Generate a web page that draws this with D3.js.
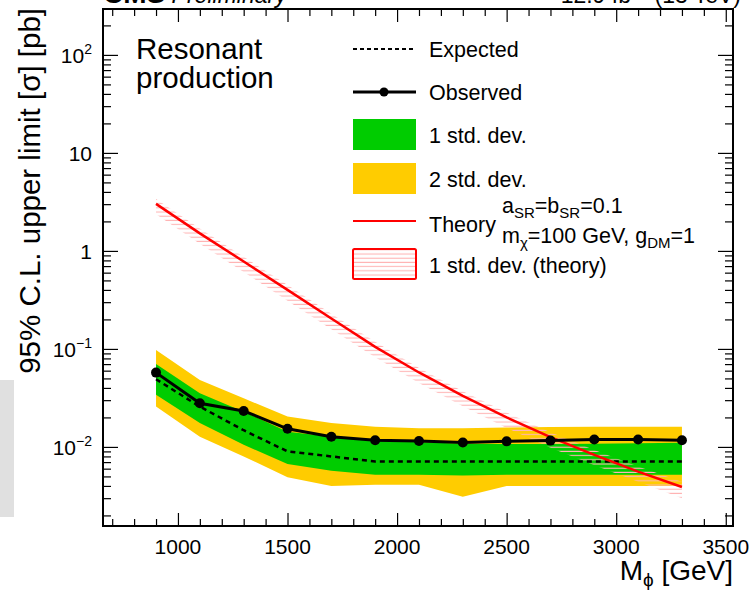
<!DOCTYPE html>
<html>
<head>
<meta charset="utf-8">
<script src="https://cdn.jsdelivr.net/npm/d3@7"></script>
<style>
  body { margin: 0; background: #fff; }
  svg text { font-family: "Liberation Sans", Arial, Helvetica, sans-serif; fill: #000; }
</style>
</head>
<body>
<svg id="chart" width="749" height="591"></svg>
<script>
// limit points, mass in GeV, cross sections in pb
var mass      = [900, 1100, 1300, 1500, 1700, 1900, 2100, 2300, 2500, 2700, 2900, 3100, 3300];
var observed  = [0.0573, 0.0279, 0.0233, 0.0153, 0.0127, 0.0117, 0.0115, 0.0111, 0.0114, 0.0116, 0.0119, 0.0119, 0.0117];
var expected  = [0.049, 0.0258, 0.0148, 0.0090, 0.0080, 0.0071, 0.0071, 0.0071, 0.0071, 0.0071, 0.0071, 0.0071, 0.0071];
var sigma1Lo  = [0.034, 0.0175, 0.0105, 0.0067, 0.0057, 0.0052, 0.0052, 0.0051, 0.0052, 0.0052, 0.0052, 0.0052, 0.0052];
var sigma1Hi  = [0.0703, 0.0353, 0.0229, 0.0143, 0.0127, 0.0118, 0.0112, 0.0108, 0.0107, 0.0107, 0.0108, 0.0109, 0.0110];
var sigma2Lo  = [0.0258, 0.0127, 0.0080, 0.0049, 0.0040, 0.0041, 0.0041, 0.0031, 0.0040, 0.0040, 0.0040, 0.0040, 0.0040];
var sigma2Hi  = [0.0977, 0.0483, 0.0314, 0.0204, 0.0175, 0.0161, 0.0155, 0.0155, 0.0158, 0.0160, 0.0161, 0.0161, 0.0161];
var theory    = [3.02, 1.51, 0.78, 0.40, 0.204, 0.105, 0.0575, 0.0331, 0.020, 0.0126, 0.0083, 0.0056, 0.0039];
var theoryHi  = [3.38, 1.69, 0.87, 0.45, 0.228, 0.118, 0.064, 0.037, 0.0224, 0.0141, 0.0093, 0.0063, 0.0044];
var theoryLo  = [2.36, 1.18, 0.61, 0.31, 0.159, 0.082, 0.045, 0.026, 0.0156, 0.0098, 0.0065, 0.0044, 0.0030];

var xMajor = [1000, 1500, 2000, 2500, 3000, 3500];
var yMajor = [0.01, 0.1, 1, 10, 100];
var yLabels = [["10", "\u22122"], ["10", "\u22121"], ["1", ""], ["10", ""], ["10", "2"]];

var rows = mass.map(function(m, i) {
  return { m: m, obs: observed[i], exp: expected[i],
           lo1: sigma1Lo[i], hi1: sigma1Hi[i], lo2: sigma2Lo[i], hi2: sigma2Hi[i],
           th: theory[i], thLo: theoryLo[i], thHi: theoryHi[i] };
});

var L = 103, R = 733, T = 9, B = 526;
var x = d3.scaleLinear().domain([658, 3533]).range([L, R]);
var y = d3.scaleLog().domain([0.00156, 294]).range([B, T]);

var svg = d3.select("#chart");
var defs = svg.append("defs");

defs.append("clipPath").attr("id", "plotClip")
  .append("rect").attr("x", L).attr("y", T).attr("width", R - L).attr("height", B - T);

// horizontal hatch for the theory band
var hatch = defs.append("pattern").attr("id", "hatch")
  .attr("patternUnits", "userSpaceOnUse").attr("width", 8).attr("height", 4.2);
hatch.append("line").attr("x1", 0).attr("x2", 8).attr("y1", 2).attr("y2", 2)
  .attr("stroke", "#ffb4b4").attr("stroke-width", 1.1);

// header, mostly outside the canvas
svg.append("text").attr("x", 103).attr("y", 3).attr("font-size", 28)
  .html('<tspan font-weight="bold">CMS</tspan><tspan font-style="italic" font-size="23"> Preliminary</tspan>');
svg.append("text").attr("x", 741).attr("y", 3).attr("font-size", 23).attr("text-anchor", "end")
  .html('12.9 fb<tspan baseline-shift="super" font-size="15">\u22121</tspan> (13 TeV)');

// grey strip at the left edge
svg.append("rect").attr("x", 0).attr("y", 380).attr("width", 14).attr("height", 137).attr("fill", "#e0e0e0");

var plot = svg.append("g").attr("clip-path", "url(#plotClip)");

var band = function(lo, hi) {
  return d3.area().x(function(d) { return x(d.m); })
    .y0(function(d) { return y(d[lo]); }).y1(function(d) { return y(d[hi]); });
};

plot.append("path").datum(rows).attr("d", band("lo2", "hi2")).attr("fill", "#ffcc00");
plot.append("path").datum(rows).attr("d", band("lo1", "hi1")).attr("fill", "#00cc00");

plot.append("path").datum(rows).attr("d", band("thLo", "thHi")).attr("fill", "url(#hatch)");

var line = function(key) {
  return d3.line().x(function(d) { return x(d.m); }).y(function(d) { return y(d[key]); });
};

plot.append("path").datum(rows).attr("d", line("exp"))
  .attr("fill", "none").attr("stroke", "#000").attr("stroke-width", 2.5).attr("stroke-dasharray", "5,4");

plot.append("path").datum(rows).attr("d", line("th"))
  .attr("fill", "none").attr("stroke", "#ff0000").attr("stroke-width", 2.5);

plot.append("path").datum(rows).attr("d", line("obs"))
  .attr("fill", "none").attr("stroke", "#000").attr("stroke-width", 3);
plot.selectAll("circle.obs").data(rows).enter().append("circle")
  .attr("class", "obs")
  .attr("cx", function(d) { return x(d.m); })
  .attr("cy", function(d) { return y(d.obs); })
  .attr("r", 5).attr("fill", "#000");

// axes: ROOT style, ticks pointing inside on all four sides
var xMinor = d3.range(700, 3501, 100).filter(function(v) { return v % 500 !== 0; });
var yMinor = [];
[0.001, 0.01, 0.1, 1, 10, 100].forEach(function(dec) {
  d3.range(2, 10).forEach(function(k) {
    var v = dec * k;
    if (v > y.domain()[0] && v < y.domain()[1]) yMinor.push(v);
  });
});

function tickAxis(axisFn, scale, vals, size, pos) {
  var g = svg.append("g").attr("transform", pos)
    .call(axisFn(scale).tickValues(vals).tickSize(size).tickFormat(""));
  g.select(".domain").remove();
  g.selectAll(".tick line").attr("stroke", "#000").attr("stroke-width", 1.2);
  return g;
}

tickAxis(d3.axisBottom, x, xMajor, -13, "translate(0," + B + ")");
tickAxis(d3.axisBottom, x, xMinor, -7, "translate(0," + B + ")");
tickAxis(d3.axisTop, x, xMajor, -13, "translate(0," + T + ")");
tickAxis(d3.axisTop, x, xMinor, -7, "translate(0," + T + ")");
tickAxis(d3.axisLeft, y, yMajor, -15, "translate(" + L + ",0)");
tickAxis(d3.axisLeft, y, yMinor, -8, "translate(" + L + ",0)");
tickAxis(d3.axisRight, y, yMajor, -15, "translate(" + R + ",0)");
tickAxis(d3.axisRight, y, yMinor, -8, "translate(" + R + ",0)");

svg.append("rect").attr("x", L).attr("y", T).attr("width", R - L).attr("height", B - T)
  .attr("fill", "none").attr("stroke", "#000").attr("stroke-width", 2);

// tick labels
svg.append("g").selectAll("text").data(xMajor).enter().append("text")
  .attr("x", function(d) { return x(d); }).attr("y", 554)
  .attr("text-anchor", "middle").attr("font-size", 21)
  .text(function(d) { return d; });

svg.append("g").selectAll("text").data(yMajor).enter().append("text")
  .attr("x", 92).attr("y", function(d) { return y(d) + 8; })
  .attr("text-anchor", "end").attr("font-size", 21)
  .each(function(d, i) {
    var t = d3.select(this);
    t.append("tspan").text(yLabels[i][0]);
    if (yLabels[i][1]) t.append("tspan").attr("font-size", 14).attr("dy", -9).text(yLabels[i][1]);
  });

// axis titles
svg.append("text").attr("x", 733).attr("y", 580).attr("text-anchor", "end").attr("font-size", 28)
  .html('M<tspan font-size="19" dy="6">\u03d5</tspan><tspan dy="-6"> [GeV]</tspan>');

svg.append("text").attr("transform", "translate(40,8) rotate(-90)")
  .attr("text-anchor", "end").attr("font-size", 29.5)
  .text("95% C.L. upper limit [\u03c3] [pb]");

// plot label
svg.append("text").attr("x", 136).attr("y", 59).attr("font-size", 29.5).text("Resonant");
svg.append("text").attr("x", 136).attr("y", 88).attr("font-size", 29.5).text("production");

// legend
var leg = svg.append("g");
var lx0 = 353, lx1 = 416, tx = 429, fs = 21.5, sub = 15;

leg.append("line").attr("x1", lx0).attr("x2", lx1).attr("y1", 49).attr("y2", 49)
  .attr("stroke", "#000").attr("stroke-width", 2).attr("stroke-dasharray", "4,3");
leg.append("text").attr("x", tx).attr("y", 57).attr("font-size", fs).text("Expected");

leg.append("line").attr("x1", lx0).attr("x2", lx1).attr("y1", 92).attr("y2", 92)
  .attr("stroke", "#000").attr("stroke-width", 3);
leg.append("circle").attr("cx", 384).attr("cy", 92).attr("r", 4.5).attr("fill", "#000");
leg.append("text").attr("x", tx).attr("y", 100).attr("font-size", fs).text("Observed");

leg.append("rect").attr("x", lx0).attr("y", 119).attr("width", lx1 - lx0).attr("height", 31).attr("fill", "#00cc00");
leg.append("text").attr("x", tx).attr("y", 143).attr("font-size", fs).text("1 std. dev.");

leg.append("rect").attr("x", lx0).attr("y", 163).attr("width", lx1 - lx0).attr("height", 31).attr("fill", "#ffcc00");
leg.append("text").attr("x", tx).attr("y", 187).attr("font-size", fs).text("2 std. dev.");

leg.append("line").attr("x1", lx0).attr("x2", lx1).attr("y1", 221).attr("y2", 221)
  .attr("stroke", "#ff0000").attr("stroke-width", 2);
leg.append("text").attr("x", tx).attr("y", 232).attr("font-size", fs).text("Theory");
leg.append("text").attr("x", 502).attr("y", 213).attr("font-size", fs)
  .html('a<tspan font-size="' + sub + '" dy="5">SR</tspan><tspan dy="-5">=b</tspan><tspan font-size="' + sub + '" dy="5">SR</tspan><tspan dy="-5">=0.1</tspan>');
leg.append("text").attr("x", 502).attr("y", 243).attr("font-size", fs)
  .html('m<tspan font-size="' + sub + '" dy="5">\u03c7</tspan><tspan dy="-5">=100 GeV, g</tspan><tspan font-size="' + sub + '" dy="5">DM</tspan><tspan dy="-5">=1</tspan>');

leg.append("rect").attr("x", lx0).attr("y", 249).attr("width", lx1 - lx0).attr("height", 30)
  .attr("fill", "url(#hatch)").attr("stroke", "#ff0000").attr("stroke-width", 2).attr("rx", 1.5);
leg.append("text").attr("x", tx).attr("y", 273).attr("font-size", fs).text("1 std. dev. (theory)");
</script>
</body>
</html>
